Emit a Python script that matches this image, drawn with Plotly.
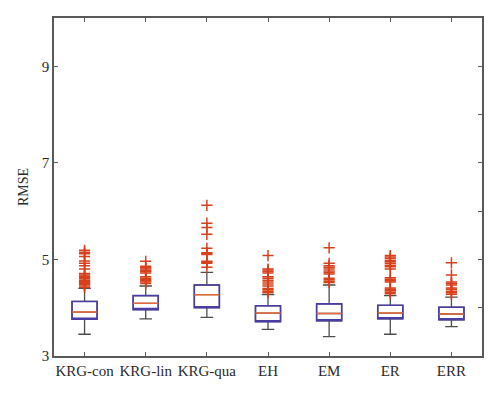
import plotly.graph_objects as go

categories = ["KRG-con", "KRG-lin", "KRG-qua", "EH", "EM", "ER", "ERR"]
lower_whisker = [3.45, 3.77, 3.80, 3.55, 3.40, 3.45, 3.61]
q1 = [3.76, 3.96, 4.00, 3.71, 3.73, 3.77, 3.75]
median = [3.91, 4.09, 4.27, 3.89, 3.88, 3.89, 3.87]
q3 = [4.13, 4.25, 4.47, 4.04, 4.08, 4.05, 4.01]
upper_whisker = [4.40, 4.45, 4.73, 4.27, 4.47, 4.25, 4.22]
outliers = [
    [4.42, 4.45, 4.48, 4.50, 4.52, 4.55, 4.57, 4.60, 4.62, 4.65, 4.68, 4.71, 4.80, 4.87, 4.92, 4.97, 5.06, 5.12, 5.15, 5.19],
    [4.50, 4.53, 4.56, 4.58, 4.61, 4.64, 4.72, 4.75, 4.77, 4.80, 4.83, 4.86, 4.96],
    [4.84, 4.92, 4.94, 4.96, 5.10, 5.12, 5.14, 5.23, 5.52, 5.66, 5.75, 6.12],
    [4.31, 4.34, 4.37, 4.40, 4.45, 4.49, 4.53, 4.57, 4.61, 4.64, 4.72, 4.75, 4.78, 4.80, 5.08],
    [4.52, 4.55, 4.58, 4.61, 4.70, 4.73, 4.76, 4.80, 4.84, 4.87, 4.92, 5.24],
    [4.29, 4.32, 4.35, 4.38, 4.41, 4.53, 4.56, 4.59, 4.62, 4.80, 4.85, 4.88, 4.92, 4.95, 4.98, 5.02, 5.05, 5.08],
    [4.28, 4.31, 4.34, 4.38, 4.41, 4.47, 4.50, 4.53, 4.68, 4.93],
]
y_ticks = [3, 5, 7, 9]
y_minor = [3, 4, 5, 6, 7, 8, 9, 10]

xpos = list(range(1, len(categories) + 1))
BOXW = 0.41
FONT = "Liberation Serif, Times New Roman, serif"
AX = "#5a5a5a"
TXT = "#2b2b2b"

fig = go.Figure()
# whiskers
fig.add_trace(go.Box(x=xpos, q1=q1, median=median, q3=q3,
                     lowerfence=lower_whisker, upperfence=upper_whisker,
                     width=BOXW, whiskerwidth=0.5, boxpoints=False,
                     line=dict(color="#4d4d4d", width=1.3),
                     fillcolor="rgba(0,0,0,0)", showlegend=False, hoverinfo="skip"))
# box edges
fig.add_trace(go.Box(x=xpos, q1=q1, median=q1, q3=q3,
                     lowerfence=q1, upperfence=q3,
                     width=BOXW, whiskerwidth=0, boxpoints=False,
                     line=dict(color="#4a3ea6", width=1.6),
                     fillcolor="rgba(0,0,0,0)", showlegend=False, hoverinfo="skip"))
# outliers
ox, oy = [], []
for i, vals in enumerate(outliers):
    ox += [xpos[i]] * len(vals)
    oy += vals
fig.add_trace(go.Scatter(x=ox, y=oy, mode="markers",
                         marker=dict(symbol="cross-thin", size=8,
                                     line=dict(color="#d8401c", width=1.5)),
                         showlegend=False, hoverinfo="skip"))
# medians (on overlay axis, drawn on top)
fig.add_trace(go.Box(x=xpos, q1=median, median=median, q3=median,
                     lowerfence=median, upperfence=median,
                     width=BOXW, whiskerwidth=0, boxpoints=False,
                     line=dict(color="#e8683a", width=1.5),
                     fillcolor="rgba(0,0,0,0)", showlegend=False, hoverinfo="skip",
                     yaxis="y2"))

fig.update_layout(
    width=492, height=389,
    margin=dict(l=45.5, r=18.3, t=9.7, b=41.3),
    paper_bgcolor="white", plot_bgcolor="white",
    boxmode="overlay",
    font=dict(family=FONT, size=15, color=TXT),
    xaxis=dict(range=[0.5, 7.5], tickvals=xpos, ticktext=categories,
               ticks="inside", ticklen=4, tickcolor=AX, tickwidth=1,
               showline=True, linecolor=AX, linewidth=1.5, mirror="ticks",
               showgrid=False, zeroline=False,
               tickfont=dict(family=FONT, size=15, color=TXT)),
    yaxis=dict(range=[3, 10], tickvals=y_ticks,
               ticks="inside", ticklen=4, tickcolor=AX, tickwidth=1,
               showline=True, linecolor=AX, linewidth=1.5,
               showgrid=False, zeroline=False,
               title=dict(text="RMSE", font=dict(family=FONT, size=14, color=TXT), standoff=10),
               tickfont=dict(family=FONT, size=15, color=TXT)),
    yaxis2=dict(range=[3, 10], overlaying="y", side="right", tickvals=y_minor,
                showticklabels=False, ticks="inside", ticklen=4, tickcolor=AX, tickwidth=1,
                showline=True, linecolor=AX, linewidth=1.5,
                showgrid=False, zeroline=False),
)

fig.write_html("out.html")
